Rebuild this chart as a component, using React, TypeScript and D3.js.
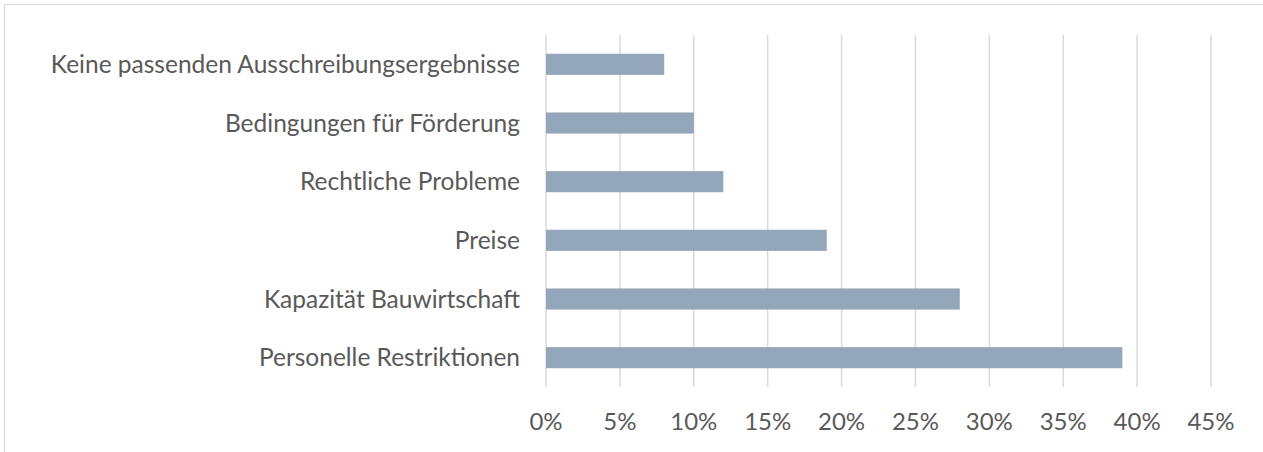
import React, { useRef, useEffect } from 'react';
import * as d3 from 'd3';

const categories = [
  'Keine passenden Ausschreibungsergebnisse',
  'Bedingungen für Förderung',
  'Rechtliche Probleme',
  'Preise',
  'Kapazität Bauwirtschaft',
  'Personelle Restriktionen',
];
const values = [0.08, 0.1, 0.12, 0.19, 0.28, 0.39];
const ticks = [0, 0.05, 0.1, 0.15, 0.2, 0.25, 0.3, 0.35, 0.4, 0.45];

const App = () => {
  const svgRef = useRef<SVGSVGElement>(null);

  useEffect(() => {
    const width = 1263;
    const height = 452;
    const svg = d3.select(svgRef.current);
    svg.selectAll('*').remove();
    svg.attr('width', width).attr('height', height);

    svg.append('rect')
      .attr('x', 4.5).attr('y', 4.5)
      .attr('width', width + 10).attr('height', height + 10)
      .attr('fill', '#fff')
      .attr('stroke', '#d9d9d9');

    const x = d3.scaleLinear().domain([0, 0.45]).range([546, 1211]);
    const y = d3.scaleBand().domain(categories).range([35, 387]).paddingInner(0.64).paddingOuter(0.32);

    const font = 'Lato, "Open Sans", sans-serif';

    svg.append('g').selectAll('line')
      .data(ticks)
      .enter()
      .append('line')
      .attr('x1', d => x(d)).attr('x2', d => x(d))
      .attr('y1', 35).attr('y2', 387)
      .attr('stroke', '#d9d9d9')
      .attr('stroke-width', 1.5);

    svg.append('g').selectAll('rect')
      .data(values)
      .enter()
      .append('rect')
      .attr('x', x(0))
      .attr('y', (d, i) => y(categories[i])!)
      .attr('width', d => x(d) - x(0))
      .attr('height', y.bandwidth())
      .attr('fill', '#94a7ba');

    svg.append('g').selectAll('text')
      .data(categories)
      .enter()
      .append('text')
      .text(d => d)
      .attr('x', 520)
      .attr('y', d => y(d)! + y.bandwidth() / 2)
      .attr('dy', '0.35em')
      .style('text-anchor', 'end')
      .style('font-family', font)
      .style('font-size', '24.5px')
      .attr('fill', '#595959');

    svg.append('g').selectAll('text')
      .data(ticks)
      .enter()
      .append('text')
      .text(d => d3.format('.0%')(d))
      .attr('x', d => x(d))
      .attr('y', 422)
      .attr('dy', '0.35em')
      .style('text-anchor', 'middle')
      .style('font-family', font)
      .style('font-size', '24px')
      .attr('fill', '#595959');
  }, []);

  return <svg ref={svgRef} style={{ position: 'absolute', left: 0, top: 0 }}></svg>;
};

export default App;
